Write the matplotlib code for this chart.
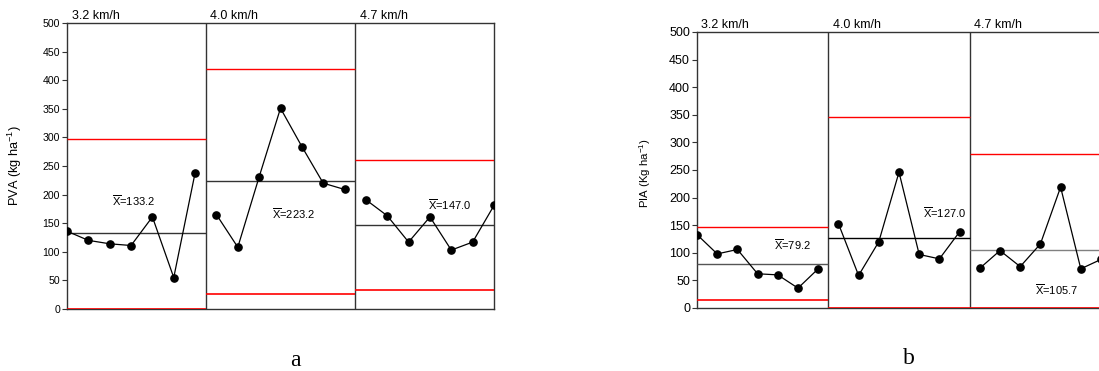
import matplotlib
matplotlib.use("Agg")
import matplotlib.pyplot as plt
import matplotlib.transforms as mtransforms
import numpy as np

plt.rcParams['font.family'] = ['Liberation Sans', 'DejaVu Sans']
plt.rcParams['mathtext.fontset'] = 'custom'
plt.rcParams['mathtext.rm'] = 'Liberation Sans'
plt.rcParams['mathtext.it'] = 'Liberation Sans'

# ---------------- data ----------------
speeds = ["3.2 km/h", "4.0 km/h", "4.7 km/h"]

pva_32 = [136, 120, 114, 111, 161, 55, 238]
pva_40 = [165, 108, 231, 351, 284, 220, 209]
pva_47 = [191, 163, 117, 161, 103, 117, 181]
pva_mean = [133.2, 223.2, 147.0]
pva_ucl = [296.6, 420.0, 260.5]
pva_lcl = [0.0, 26.8, 32.6]

pia_32 = [133, 98, 106, 62, 60, 36, 71]
pia_40 = [153, 59, 120, 246, 97, 89, 138]
pia_47 = [72, 104, 75, 116, 219, 71, 88]
pia_mean = [79.2, 127.0, 105.7]
pia_ucl = [146.7, 345.4, 279.0]
pia_lcl = [14.5, 0.0, 0.0]

yticks = [0, 50, 100, 150, 200, 250, 300, 350, 400, 450, 500]

DARK = '#333333'


def draw(ax, groups, means, ucls, lcls, ylabel, label_xy, title_y,
         mean_colors, tick_fs, label_fs):
    start = 0
    bounds = []
    for gi, g in enumerate(groups):
        x = np.arange(start, start + len(g))
        ax.plot(x, g, color='black', lw=0.9, marker='o', ms=5.2,
                mfc='black', mec='black', zorder=4)
        lo = start - 0.5 if gi > 0 else 0
        hi = start + len(g) - 0.5 if gi < len(groups) - 1 else start + len(g) - 1
        bounds.append((lo, hi))
        ax.hlines(means[gi], lo, hi, color=mean_colors[gi], lw=1.0, zorder=3)
        ax.hlines(ucls[gi], lo, hi, color='#ff0000', lw=1.0, zorder=3)
        ax.hlines(lcls[gi], lo, hi, color='#ff0000', lw=1.2, zorder=3)
        if gi > 0:
            ax.axvline(lo, color=DARK, lw=1.0, zorder=2)
        start += len(g)
    ax.set_xlim(0, start - 1)
    ax.set_ylim(0, 500)
    ax.set_yticks(yticks)
    ax.set_xticks([])
    ax.tick_params(axis='y', direction='out', length=3.5, width=0.8,
                   labelsize=tick_fs, pad=1.5, colors=DARK, labelcolor='black')
    for s in ax.spines.values():
        s.set_color(DARK)
        s.set_linewidth(1.0)
    ax.set_ylabel(ylabel, fontsize=label_fs)
    ax.yaxis.set_label_coords(label_xy[0], label_xy[1])
    trans = mtransforms.blended_transform_factory(ax.transData, ax.transAxes)
    for gi, (lo, hi) in enumerate(bounds):
        ax.text(lo + 0.22, title_y, speeds[gi], transform=trans,
                fontsize=9, ha='left', va='bottom')


fig = plt.figure(figsize=(10.99, 3.71), dpi=100)

ax1 = fig.add_axes([67 / 1099, 1 - 309 / 371, 427 / 1099, 286 / 371])
draw(ax1, [pva_32, pva_40, pva_47], pva_mean, pva_ucl, pva_lcl,
     "PVA (kg ha$^{\\mathregular{-1}}$)", (-0.100, 0.5), 1.004,
     [DARK, DARK, DARK], 7.6, 9.2)
for (xx, yy), m in zip([(3.1, 190), (10.6, 167), (17.9, 183)], pva_mean):
    ax1.text(xx, yy, "$\\overline{\\mathrm{X}}$=%.1f" % m, fontsize=8,
             ha='center', va='center')

ax2 = fig.add_axes([697 / 1099, 1 - 308 / 371, 404 / 1099, 276 / 371])
draw(ax2, [pia_32, pia_40, pia_47], pia_mean, pia_ucl, pia_lcl,
     "PIA (Kg ha$^{\\mathregular{-1}}$)", (-0.108, 0.49), 1.004,
     ['#555555', 'black', '#808080'], 9, 8.2)
for (xx, yy), m in zip([(4.75, 115), (12.25, 172), (17.8, 33)], pia_mean):
    ax2.text(xx, yy, "$\\overline{\\mathrm{X}}$=%.1f" % m, fontsize=8,
             ha='center', va='center')

fig.text(295 / 1099, 1 - 360 / 371, "a", family='Liberation Serif',
         fontsize=17, ha='center', va='center')
fig.text(909 / 1099, 1 - 358 / 371, "b", family='Liberation Serif',
         fontsize=17, ha='center', va='center')

fig.savefig("out.png", dpi=100)
